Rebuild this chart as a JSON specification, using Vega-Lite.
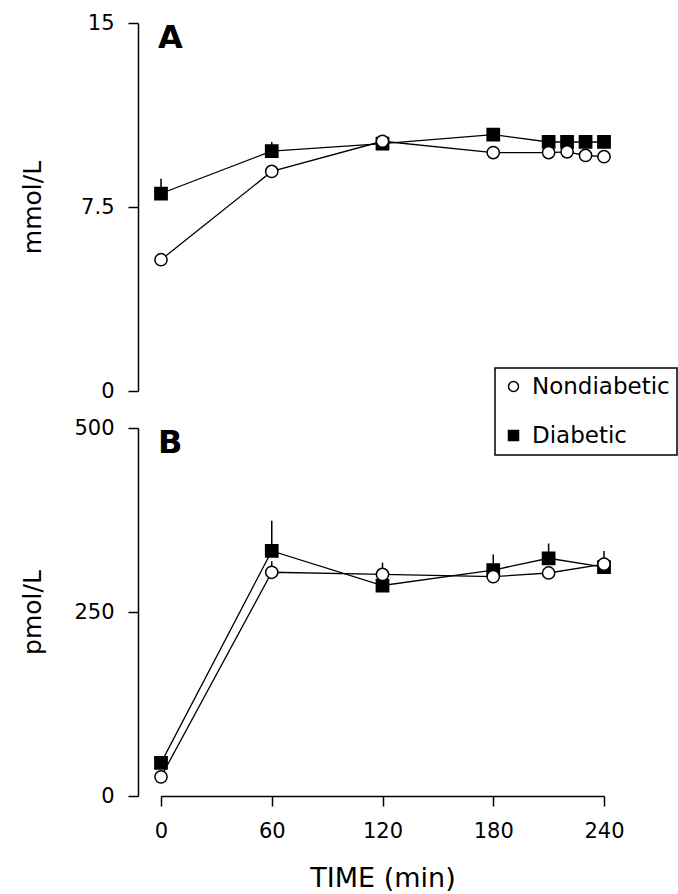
{
  "$schema": "https://vega.github.io/schema/vega-lite/v6.json",
  "padding": {"left": 20, "top": 12, "right": 0, "bottom": 0},
  "background": "white",
  "config": {
    "view": {"stroke": null},
    "font": "DejaVu Sans",
    "axis": {
      "grid": false,
      "domainColor": "black",
      "tickColor": "black",
      "labelColor": "black",
      "titleColor": "black",
      "labelFont": "DejaVu Sans",
      "titleFont": "DejaVu Sans",
      "labelFontSize": 21,
      "labelFontWeight": "normal",
      "titleFontSize": 25,
      "titleFontWeight": "normal",
      "tickSize": 10,
      "domainWidth": 1.5,
      "tickWidth": 1.5,
      "labelPadding": 14,
      "labelFlush": false
    },
    "legend": {
      "strokeColor": "black",
      "strokeWidth": 1.5,
      "fillColor": "white",
      "padding": 7,
      "labelFont": "DejaVu Sans",
      "labelFontSize": 23,
      "labelColor": "black",
      "symbolSize": 100,
      "rowPadding": 25,
      "labelOffset": 7
    }
  },
  "datasets": {
    "glucose": [
      {"group": "Diabetic", "time": 0, "value": 8.05, "upper": 8.65},
      {"group": "Diabetic", "time": 60, "value": 9.78, "upper": 10.15},
      {"group": "Diabetic", "time": 120, "value": 10.08, "upper": null},
      {"group": "Diabetic", "time": 180, "value": 10.45, "upper": null},
      {"group": "Diabetic", "time": 210, "value": 10.15, "upper": null},
      {"group": "Diabetic", "time": 220, "value": 10.15, "upper": null},
      {"group": "Diabetic", "time": 230, "value": 10.15, "upper": null},
      {"group": "Diabetic", "time": 240, "value": 10.15, "upper": null},
      {"group": "Nondiabetic", "time": 0, "value": 5.35, "upper": null},
      {"group": "Nondiabetic", "time": 60, "value": 8.95, "upper": null},
      {"group": "Nondiabetic", "time": 120, "value": 10.18, "upper": null},
      {"group": "Nondiabetic", "time": 180, "value": 9.72, "upper": null},
      {"group": "Nondiabetic", "time": 210, "value": 9.72, "upper": null},
      {"group": "Nondiabetic", "time": 220, "value": 9.75, "upper": null},
      {"group": "Nondiabetic", "time": 230, "value": 9.6, "upper": null},
      {"group": "Nondiabetic", "time": 240, "value": 9.55, "upper": null}
    ],
    "insulin": [
      {"group": "Diabetic", "time": 0, "value": 45, "upper": null},
      {"group": "Diabetic", "time": 60, "value": 333, "upper": 374},
      {"group": "Diabetic", "time": 120, "value": 286, "upper": null},
      {"group": "Diabetic", "time": 180, "value": 307, "upper": 328},
      {"group": "Diabetic", "time": 210, "value": 323, "upper": 343},
      {"group": "Diabetic", "time": 240, "value": 311, "upper": null},
      {"group": "Nondiabetic", "time": 0, "value": 26, "upper": null},
      {"group": "Nondiabetic", "time": 60, "value": 304, "upper": 319},
      {"group": "Nondiabetic", "time": 120, "value": 301, "upper": 317},
      {"group": "Nondiabetic", "time": 180, "value": 298, "upper": null},
      {"group": "Nondiabetic", "time": 210, "value": 303, "upper": null},
      {"group": "Nondiabetic", "time": 240, "value": 315, "upper": 333}
    ]
  },
  "resolve": {"scale": {"shape": "independent", "color": "independent"}},
  "bounds": "flush",
  "spacing": 37,
  "vconcat": [
    {
      "width": 443,
      "height": 368,
      "title": {"text": "A", "anchor": "start", "frame": "group", "orient": "top", "offset": -43, "dx": -3, "fontSize": 32, "fontWeight": "bold", "font": "DejaVu Sans", "color": "black"},
      "data": {"name": "glucose"},
      "encoding": {
        "x": {"field": "time", "type": "quantitative", "scale": {"domain": [0, 240]}, "axis": null}
      },
      "layer": [
        {
          "transform": [{"filter": "datum.upper != null"}],
          "mark": {"type": "rule", "color": "black", "strokeWidth": 1.5},
          "encoding": {
            "y": {"field": "value", "type": "quantitative", "scale": {"domain": [0, 15]}},
            "y2": {"field": "upper"}
          }
        },
        {
          "mark": {"type": "line", "color": "black", "strokeWidth": 1.3},
          "encoding": {
            "y": {"field": "value", "type": "quantitative", "scale": {"domain": [0, 15]},
              "axis": {"values": [0, 7.5, 15], "format": "~g", "title": "mmol/L", "offset": 23, "titleX": -93}},
            "detail": {"field": "group"}
          }
        },
        {
          "mark": {"type": "point", "filled": true, "stroke": "black", "strokeWidth": 1.5, "opacity": 1, "size": 150},
          "encoding": {
            "y": {"field": "value", "type": "quantitative", "scale": {"domain": [0, 15]}},
            "shape": {"field": "group", "type": "nominal", "scale": {"domain": ["Nondiabetic", "Diabetic"], "range": ["circle", "square"]},
              "legend": {"title": null, "orient": "none", "legendX": 334, "legendY": 345}},
            "color": {"field": "group", "type": "nominal", "scale": {"domain": ["Nondiabetic", "Diabetic"], "range": ["white", "black"]},
              "legend": {"title": null, "orient": "none", "legendX": 334, "legendY": 345}}
          }
        }
      ]
    },
    {
      "width": 443,
      "height": 368,
      "title": {"text": "B", "anchor": "start", "frame": "group", "orient": "top", "offset": -43, "dx": -3, "fontSize": 32, "fontWeight": "bold", "font": "DejaVu Sans", "color": "black"},
      "data": {"name": "insulin"},
      "encoding": {
        "x": {"field": "time", "type": "quantitative", "scale": {"domain": [0, 240]},
          "axis": {"values": [0, 60, 120, 180, 240], "title": "TIME (min)", "titleFontSize": 27, "titlePadding": 24}}
      },
      "layer": [
        {
          "transform": [{"filter": "datum.upper != null"}],
          "mark": {"type": "rule", "color": "black", "strokeWidth": 1.5},
          "encoding": {
            "y": {"field": "value", "type": "quantitative", "scale": {"domain": [0, 500]}},
            "y2": {"field": "upper"}
          }
        },
        {
          "mark": {"type": "line", "color": "black", "strokeWidth": 1.3},
          "encoding": {
            "y": {"field": "value", "type": "quantitative", "scale": {"domain": [0, 500]},
              "axis": {"values": [0, 250, 500], "title": "pmol/L", "offset": 23, "titleX": -93}},
            "detail": {"field": "group"}
          }
        },
        {
          "mark": {"type": "point", "filled": true, "stroke": "black", "strokeWidth": 1.5, "opacity": 1, "size": 150},
          "encoding": {
            "y": {"field": "value", "type": "quantitative", "scale": {"domain": [0, 500]}},
            "shape": {"field": "group", "type": "nominal", "scale": {"domain": ["Nondiabetic", "Diabetic"], "range": ["circle", "square"]}, "legend": null},
            "color": {"field": "group", "type": "nominal", "scale": {"domain": ["Nondiabetic", "Diabetic"], "range": ["white", "black"]}, "legend": null}
          }
        }
      ]
    }
  ]
}
